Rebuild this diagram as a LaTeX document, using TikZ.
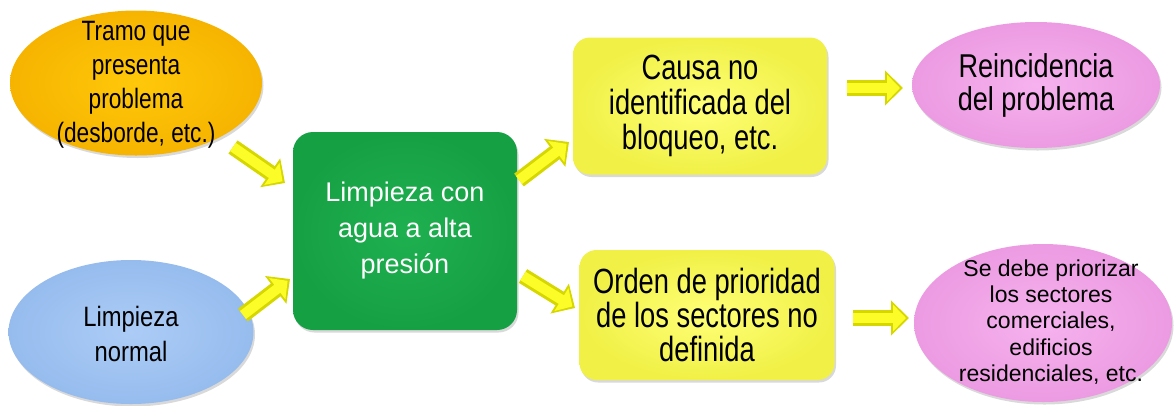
\documentclass[tikz,border=0pt]{standalone}
\usepackage{fontspec}
\setmainfont{Liberation Sans}
\newfontfamily\fnA[FakeStretch=0.81]{Liberation Sans}
\newfontfamily\fnB[FakeStretch=0.78]{Liberation Sans}
\newfontfamily\fnC[FakeStretch=0.82]{Liberation Sans}
\newfontfamily\fnD[FakeStretch=0.85]{Liberation Sans}
\usetikzlibrary{shapes.geometric,shadows,arrows.meta}
\definecolor{orOut}{RGB}{246,180,0}
\definecolor{orIn}{RGB}{255,200,10}
\definecolor{blOut}{RGB}{150,188,238}
\definecolor{blIn}{RGB}{172,204,246}
\definecolor{grOut}{RGB}{22,160,68}
\definecolor{grIn}{RGB}{30,176,80}
\definecolor{yeOut}{RGB}{240,240,70}
\definecolor{yeIn}{RGB}{255,255,120}
\definecolor{piOut}{RGB}{236,155,226}
\definecolor{piIn}{RGB}{246,178,238}
\definecolor{arDark}{RGB}{214,214,0}
\definecolor{arLight}{RGB}{252,252,40}
\begin{document}
\begin{tikzpicture}[x=1pt,y=-1pt,
  shad/.style={drop shadow={opacity=0.3,shadow xshift=1.5pt,shadow yshift=-2.5pt}},
  ell/.style={ellipse, shad, inner sep=0pt},
  boxnode/.style={rectangle, rounded corners=20pt, shad, inner sep=0pt, align=center},
  lbl/.style={align=center, text=black, inner sep=0pt},
  blkout/.style={line width=16pt, draw=arDark, -{Triangle[width=34pt,length=18pt]}},
  blkin/.style={line width=10pt, draw=arLight, shorten >=3pt, -{Triangle[width=26pt,length=13pt]}}
]
\useasboundingbox (0,0) rectangle (1174,405);

% nodes
\node[ell, inner color=orIn, outer color=orOut, minimum width=252pt, minimum height=145pt,
  label={[lbl, font={\fnA\fontsize{28pt}{34pt}\selectfont}, yshift=-2pt]center:Tramo que\\presenta\\problema\\(desborde, etc.)}]
  (tramo) at (136,83) {};
\node[ell, inner color=blIn, outer color=blOut, minimum width=245pt, minimum height=144pt,
  label={[lbl, font={\fnD\fontsize{28pt}{35pt}\selectfont}, yshift=-2pt]center:Limpieza\\normal}]
  (normal) at (131,332) {};
\node[boxnode, inner color=grIn, outer color=grOut, minimum width=224pt, minimum height=198pt,
  text=white, font={\fontsize{27pt}{36pt}\selectfont}]
  (alta) at (405,231) {Limpieza con\\agua a alta\\presión};
\node[boxnode, rounded corners=17pt, inner color=yeIn, outer color=yeOut, minimum width=254pt, minimum height=137pt,
  font={\fnB\fontsize{35pt}{35pt}\selectfont}]
  (causa) at (700,106) {Causa no\\identificada del\\bloqueo, etc.};
\node[boxnode, rounded corners=17pt, inner color=yeIn, outer color=yeOut, minimum width=255pt, minimum height=130pt,
  font={\fnB\fontsize{35pt}{34pt}\selectfont}]
  (orden) at (707,315) {Orden de prioridad\\de los sectores no\\definida};
\node[ell, inner color=piIn, outer color=piOut, minimum width=248pt, minimum height=126pt,
  label={[lbl, font={\fnC\fontsize{33pt}{33pt}\selectfont}]center:Reincidencia\\del problema}]
  (reinc) at (1036,85) {};
\node[ell, inner color=piIn, outer color=piOut, minimum width=258pt, minimum height=158pt,
  label={[lbl, font={\fontsize{23pt}{26.2pt}\selectfont}, xshift=8pt, yshift=1pt]center:Se debe priorizar\\los sectores\\comerciales,\\edificios\\residenciales, etc.}]
  (prior) at (1043,323) {};

% connector end points
\coordinate (a1s) at (233,147); \coordinate (a1e) at (285,183);
\coordinate (a2s) at (243,315); \coordinate (a2e) at (290,279);
\coordinate (a3s) at (519,180); \coordinate (a3e) at (569,142);
\coordinate (a4s) at (523,276); \coordinate (a4e) at (575,308);
\coordinate (a5s) at (847,88);  \coordinate (a5e) at (903,88);
\coordinate (a6s) at (853,318); \coordinate (a6e) at (909,318);

\foreach \s/\e in {a1s/a1e,a2s/a2e,a3s/a3e,a4s/a4e,a5s/a5e,a6s/a6e}{
  \draw[blkout] (\s) -- (\e);
  \draw[blkin] (\s) -- (\e);
}
\end{tikzpicture}
\end{document}
